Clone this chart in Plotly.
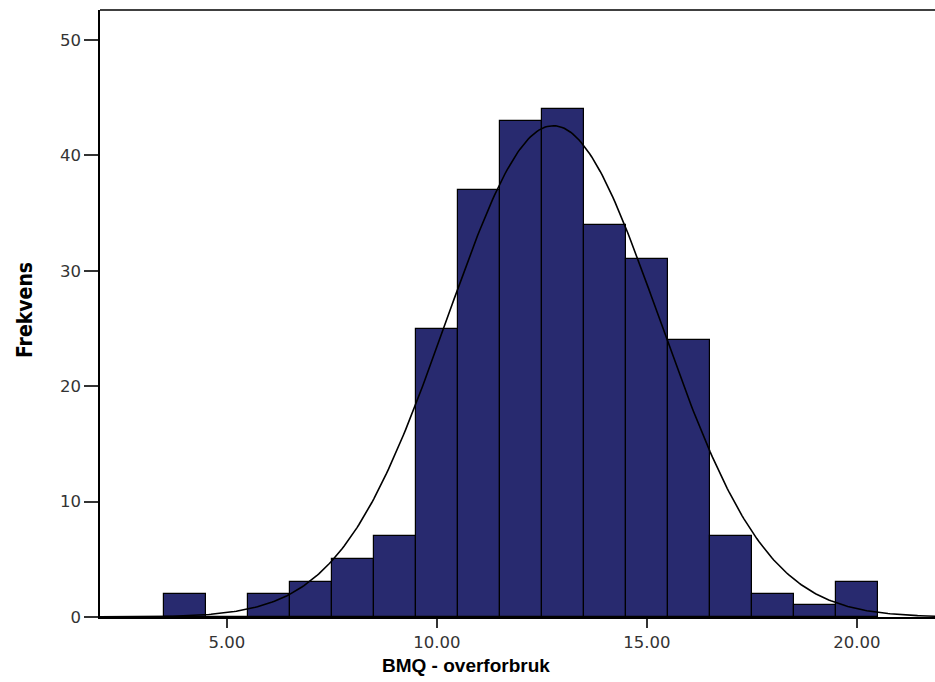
import numpy as np
import plotly.graph_objects as go

# Data
bin_mid = [4, 5, 6, 7, 8, 9, 10, 11, 12, 13, 14, 15, 16, 17, 18, 19, 20]
counts = [2, 0, 2, 3, 5, 7, 25, 37, 43, 44, 34, 31, 24, 7, 2, 1, 3]
x_tickvals = [5, 10, 15, 20]
x_ticktext = ["5.00", "10.00", "15.00", "20.00"]
y_tickvals = [0, 10, 20, 30, 40, 50]

# Normal curve parameters (fitted)
n_total = sum(counts)
mean = sum(m * c for m, c in zip(bin_mid, counts)) / n_total
sd = 2.53
bin_w = 1.0

xs = np.linspace(1.9, 22.0, 400)
ys = n_total * bin_w / (sd * np.sqrt(2 * np.pi)) * np.exp(-0.5 * ((xs - mean) / sd) ** 2)

fig = go.Figure()
fig.add_trace(go.Bar(x=bin_mid, y=counts, width=1.0,
                     marker=dict(color="#282A6F", line=dict(color="black", width=1.2)),
                     hoverinfo="skip"))
fig.add_trace(go.Scatter(x=xs, y=ys, mode="lines",
                         line=dict(color="black", width=1.6), hoverinfo="skip"))

tickfont = dict(family="DejaVu Sans", size=16.5, color="#333333")
fig.update_layout(
    width=935, height=682,
    margin=dict(l=100, r=0, t=10, b=65),
    plot_bgcolor="white", paper_bgcolor="white",
    showlegend=False, bargap=0,
    xaxis=dict(range=[1.98, 21.86], tickvals=x_tickvals, ticktext=x_ticktext,
               showgrid=False, zeroline=False, showline=True, linecolor="black", linewidth=1.5,
               ticks="outside", ticklen=9, tickwidth=1.5, tickcolor="#333",
               tickfont=tickfont),
    yaxis=dict(range=[0, 52.6], tickvals=y_tickvals,
               showgrid=False, zeroline=False, showline=True, linecolor="black", linewidth=1.5,
               ticks="outside", ticklen=14, tickwidth=1.5, tickcolor="#333",
               tickfont=tickfont),
    shapes=[dict(type="line", xref="paper", yref="paper", x0=0, x1=1, y0=1, y1=1,
                 line=dict(color="black", width=1.5))],
    annotations=[
        dict(text="<b>BMQ - overforbruk</b>", xref="paper", yref="paper",
             x=(466 - 100) / 835, y=-(665 - 617) / 607, xanchor="center", yanchor="middle",
             showarrow=False, font=dict(family="Liberation Sans", size=19, color="black")),
        dict(text="<b>Frekvens</b>", xref="paper", yref="paper",
             x=-(100 - 25) / 835, y=(617 - 310) / 607, xanchor="center", yanchor="middle",
             textangle=-90, showarrow=False,
             font=dict(family="DejaVu Sans Condensed, Liberation Sans", size=21, color="black")),
    ],
)

fig.write_html("out.html")
